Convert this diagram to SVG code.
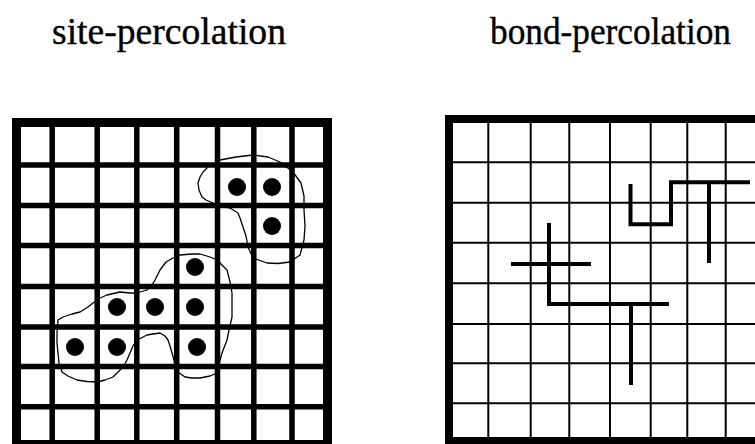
<svg xmlns="http://www.w3.org/2000/svg" width="755" height="444" viewBox="0 0 755 444">
<style>
.title{font-family:"Liberation Serif","Times New Roman",serif;font-size:38px;fill:#000;stroke:#000;stroke-width:0.4}
.thick{stroke:#000;stroke-width:5.5;fill:none}
.frameL{stroke:#000;stroke-width:9;fill:none}
.frameR{stroke:#000;stroke-width:8;fill:none}
.thin{stroke:#000;stroke-width:2;fill:none}
.bond{stroke:#000;stroke-width:4;fill:none;stroke-linecap:butt;stroke-linejoin:miter}
.site{fill:#000}
.hull{stroke:#000;stroke-width:1.3;fill:none;stroke-linejoin:round}
</style>
<rect width="755" height="444" fill="#fff"/>
<g id="title-site"><text class="title" x="52" y="44" textLength="234" lengthAdjust="spacingAndGlyphs">site-percolation</text></g>
<g id="title-bond"><text class="title" x="490" y="44" textLength="241" lengthAdjust="spacingAndGlyphs">bond-percolation</text></g>

<g id="site-lattice">
<path class="thick" d="M52.2,118V444M97.2,118V444M136.8,118V444M176.7,118V444M217.5,118V444M253.8,118V444M292,118V444"/>
<path class="thick" d="M12,165H332M12,205.5H332M12,245.5H332M12,286.5H332M12,327H332M12,366.5H332M12,406.7H332"/>
<rect class="frameL" x="16.5" y="122.5" width="311" height="322"/>
</g>
<g id="site-occupied">
<circle class="site" cx="237" cy="187" r="9"/>
<circle class="site" cx="272" cy="187" r="9"/>
<circle class="site" cx="272" cy="226" r="9"/>
<circle class="site" cx="195" cy="267" r="9"/>
<circle class="site" cx="117" cy="307" r="9"/>
<circle class="site" cx="155" cy="307" r="9"/>
<circle class="site" cx="195" cy="307" r="9"/>
<circle class="site" cx="75" cy="347" r="9"/>
<circle class="site" cx="117" cy="347" r="9"/>
<circle class="site" cx="197" cy="347" r="9"/>
</g>
<g id="site-clusters">
<path id="cluster-upper" class="hull" d="M203,172 L210,165 220,160 236,157 253,155 268,157 280,162 293,172 301,183 304,196 304,210 305,226 304,240 300,255 290,262 278,263.5 267,263 253,258 248,247 246,236 243,227 240,218 238,213 230,208 222,206 213,203 206,200 202,197 199,190 198,183 200,177 Z"/>
<path id="cluster-lower" class="hull" d="M58,320 L63,317 72,314 80,312 88,307 93,303 100,298 107,295 120,292 130,293 137,293 147,290 152,285 155,280 160,270 166,262 173,258 180,255 192,254 200,254 210,257 217,260 222,265 227,270 230,282 232,293 232,305 232,317 229,330 227,340 222,353 219,364 217,373 210,376 200,378 192,378 185,377 178,372 175,367 174,360 172,353 170,346 168,340 165,336 160,333 153,334 147,335 141,338 137,340 133,346 130,353 127,360 123,367 117,373 113,377 105,380 97,382 87,381.5 77,380 68,376 62,372 59,363 58,353 57,343 57,333 Z"/>
</g>

<g id="bond-lattice">
<path class="thin" d="M488.3,119V441M530.7,119V441M569.3,119V441M610,119V441M650.7,119V441M687.3,119V441M725.7,119V441"/>
<path class="thin" d="M449,162.3H755M449,202.7H755M449,242.7H755M449,283.3H755M449,324H755M449,363.3H755M449,403.3H755"/>
<rect class="frameR" x="449" y="119" width="321" height="322"/>
</g>
<g id="bond-clusters">
<path id="bond-upper" class="bond" d="M630.5,184V224.3H671V182.3H750"/>
<path id="bond-upper-t" class="bond" d="M709,182.3V263"/>
<path id="bond-cross-h" class="bond" d="M511,264H591"/>
<path id="bond-lower" class="bond" d="M549,223V304H669"/>
<path id="bond-lower-t" class="bond" d="M631,304V385"/>
</g>
</svg>
